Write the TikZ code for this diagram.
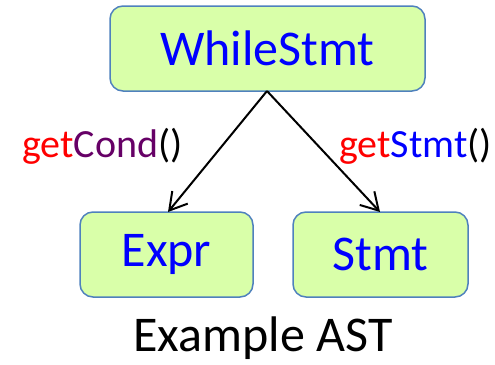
\documentclass[tikz,border=0pt]{standalone}
\usepackage{fontspec}
\setmainfont{Carlito}
\usetikzlibrary{arrows.meta}
\definecolor{boxfill}{HTML}{D9FFA9}
\definecolor{boxline}{HTML}{4F81BD}
\definecolor{txtblue}{HTML}{0000FF}
\definecolor{txtred}{HTML}{FF0000}
\definecolor{txtpurple}{HTML}{660066}
\begin{document}
\begin{tikzpicture}[x=1pt,y=-1pt,
  astbox/.style={draw=boxline, line width=1.5pt, fill=boxfill, rounded corners=13pt,
    inner sep=0pt, text=txtblue, font=\fontsize{50}{54}\selectfont},
  edge/.style={-{Straight Barb[length=17pt,width=20pt]}, line width=2pt},
  lbl/.style={inner sep=0pt, font=\fontsize{40}{44}\selectfont}]
\useasboundingbox (0,0) rectangle (495,364);
\node[astbox, minimum width=315pt, minimum height=85pt] (w) at (267.5,48.5) {WhileStmt};
\node[astbox, minimum width=173pt, minimum height=85pt] (e) at (166.5,254.5) {Expr};
\node[astbox, minimum width=175pt, minimum height=85pt] (s) at (380.5,254.5) {Stmt};
\coordinate (top) at (267,91);
\coordinate (le) at (168,212);
\coordinate (re) at (380,212);
\draw[edge] (top) -- (le);
\draw[edge] (top) -- (re);
\node[lbl, anchor=west] (lc) at (22,146) {\textcolor{txtred}{get}\textcolor{txtpurple}{Cond}()};
\node[lbl, anchor=east] (rc) at (492,146) {\textcolor{txtred}{get}\textcolor{txtblue}{Stmt}()};
\node[inner sep=0pt, font=\fontsize{50}{54}\selectfont] (cap) at (263,338) {Example AST};
\end{tikzpicture}
\end{document}
